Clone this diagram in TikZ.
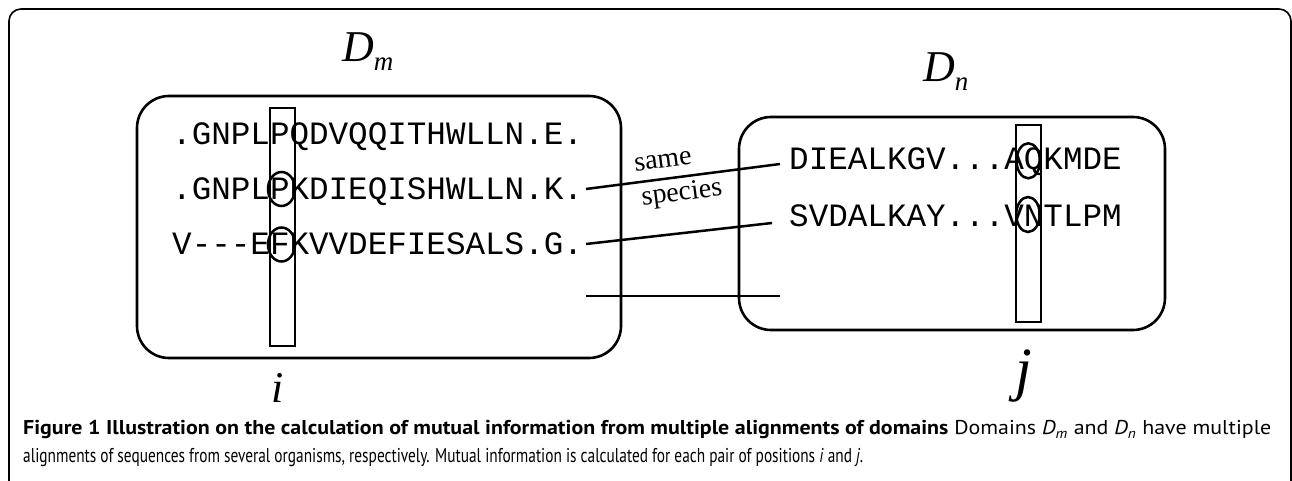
\documentclass[tikz,border=0pt]{standalone}
\usepackage{fontspec}
\usepackage{graphicx}
\usetikzlibrary{shapes.geometric}
\setmainfont{Liberation Serif}
\setsansfont{PT Sans}
\newfontfamily\seqfont{Liberation Mono}
\begin{document}
\begin{tikzpicture}[x=1bp,y=-1bp,
  outerframe/.style={line width=1.6bp, rounded corners=12bp},
  domainbox/.style={line width=2.6bp, rounded corners=32bp},
  seqtext/.style={anchor=base west, inner sep=0pt, font=\seqfont\fontsize{32.6bp}{36bp}\selectfont},
  colbox/.style={draw, line width=2.5bp, rectangle, inner sep=0pt, minimum width=25bp},
  resmark/.style={draw, line width=2.5bp, ellipse, inner sep=0pt},
  link/.style={line width=2.5bp},
  spectext/.style={inner sep=0pt, rotate=7.3, font=\fontsize{28bp}{30bp}\selectfont},
  dlabel/.style={anchor=base west, inner sep=0pt, font=\fontsize{44bp}{50bp}\selectfont\itshape},
  poslabel/.style={anchor=base, inner sep=0pt, font=\fontsize{44bp}{50bp}\selectfont\itshape},
  captext/.style={anchor=base west, inner sep=0pt}
]
\useasboundingbox (0,0) rectangle (1292,481);
\begin{scope}
\clip (0,0) rectangle (1292,481);
\draw[outerframe] (9,520) -- (9,9) -- (1291,9) -- (1291,520);
\end{scope}

% domain boxes
\draw[domainbox] (137,96) rectangle (621,358);
\draw[domainbox] (739,117) rectangle (1165,330);

% sequences
\node[seqtext] (m1) at (172,145) {.GNPLPQDVQQITHWLLN.E.};
\node[seqtext] (m2) at (172,200) {.GNPLPKDIEQISHWLLN.K.};
\node[seqtext] (m3) at (172,255) {V---EFKVVDEFIESALS.G.};
\node[seqtext] (n1) at (789,170) {DIEALKGV...AQKMDE};
\node[seqtext] (n2) at (789,227) {SVDALKAY...VNTLPM};

% column boxes
\node[colbox, minimum height=238bp] (ci) at (282.5,227) {};
\node[colbox, minimum height=197bp] (cj) at (1028.5,223.5) {};

% residue ellipses
\node[resmark, minimum width=27bp, minimum height=34bp] (e2) at (281.5,189) {};
\node[resmark, minimum width=27bp, minimum height=34bp] (e3) at (281.5,244.5) {};
\node[resmark, minimum width=23.5bp, minimum height=35bp] (f1) at (1028.3,160.8) {};
\node[resmark, minimum width=23.5bp, minimum height=35bp] (f2) at (1028,214.5) {};

% connectors
\coordinate (a1) at (586,189);
\coordinate (b1) at (780,164);
\coordinate (a2) at (586,244);
\coordinate (b2) at (772,223);
\coordinate (a3) at (586,296);
\coordinate (b3) at (780,296);
\draw[link] (a1) -- (b1);
\draw[link] (a2) -- (b2);
\draw[link] (a3) -- (b3);

\node[spectext] (same) at (663,161) {same};
\node[spectext] (species) at (682,194) {species};

% labels
\node[dlabel] (dm) at (342,62) {D\raisebox{-9bp}{\fontsize{27bp}{30bp}\selectfont m}};
\node[dlabel] (dn) at (923,82) {D\raisebox{-9bp}{\fontsize{27bp}{30bp}\selectfont n}};
\node[poslabel] (li) at (278,402) {i};
\node[poslabel, font=\fontsize{60bp}{64bp}\selectfont\itshape] (lj) at (1024,389) {j};

% caption
\node[captext] (cap1) at (23,435) {\resizebox{1248bp}{\height}{\sffamily\fontsize{20bp}{22bp}\selectfont\textbf{Figure 1 Illustration on the calculation of mutual information from multiple alignments of domains} Domains \textit{D}\textsubscript{\textit{m}} and \textit{D}\textsubscript{\textit{n}} have multiple}};
\node[captext] (cap2) at (23,462) {\resizebox{840bp}{\height}{\sffamily\fontsize{20bp}{22bp}\selectfont alignments of sequences from several organisms, respectively. Mutual information is calculated for each pair of positions \textit{i} and \textit{j}.}};
\end{tikzpicture}
\end{document}
